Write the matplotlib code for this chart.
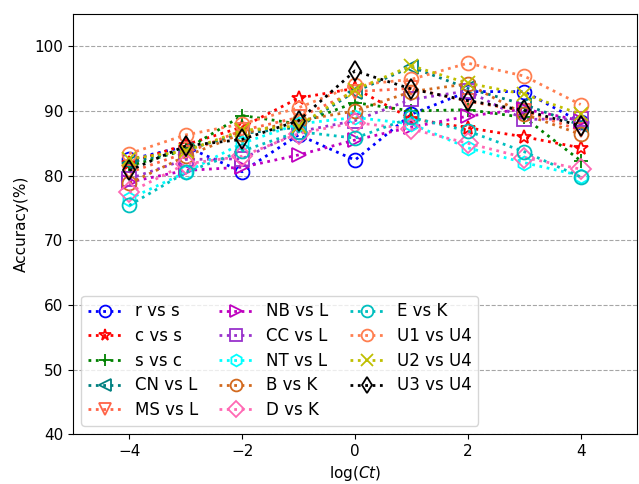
import numpy as np
import matplotlib
matplotlib.use('Agg')
import matplotlib.pyplot as plt

#===============================================================================================================================================
# data

log_ct = [-4, -3, -2, -1, 0, 1, 2, 3, 4]

labels = ['r vs s', 'c vs s', 's vs c', 'CN vs L', 'MS vs L',
          'NB vs L', 'CC vs L', 'NT vs L', 'B vs K', 'D vs K',
          'E vs K', 'U1 vs U4', 'U2 vs U4', 'U3 vs U4']

r_vs_s   = [82.5, 84.5, 80.6, 86.3, 82.4, 89.5, 93.0, 93.0, 88.3]
c_vs_s   = [82.0, 84.8, 87.5, 92.0, 93.5, 88.8, 87.4, 86.0, 84.3]
s_vs_c   = [81.5, 84.0, 89.3, 88.0, 91.3, 90.0, 90.2, 89.0, 82.3]
cn_vs_l  = [82.0, 84.0, 86.5, 87.5, 93.0, 96.8, 93.5, 91.0, 87.8]
ms_vs_l  = [80.5, 83.5, 87.0, 89.0, 93.0, 93.5, 91.5, 90.0, 87.0]
nb_vs_l  = [79.0, 80.8, 81.3, 83.2, 85.5, 87.5, 89.2, 90.3, 88.5]
cc_vs_l  = [79.5, 82.5, 82.6, 86.8, 88.5, 91.8, 93.1, 88.7, 88.8]
nt_vs_l  = [76.4, 80.5, 85.0, 88.0, 89.0, 88.0, 84.3, 82.0, 80.0]
b_vs_k   = [78.8, 83.0, 86.5, 88.5, 90.0, 93.0, 94.2, 89.5, 86.4]
d_vs_k   = [77.4, 81.8, 83.0, 86.5, 88.2, 87.2, 85.0, 82.8, 81.0]
e_vs_k   = [75.4, 80.5, 83.8, 86.8, 85.8, 89.0, 86.9, 83.7, 79.8]
u1_vs_u4 = [83.4, 86.3, 88.0, 90.5, 94.0, 94.9, 97.4, 95.4, 91.0]
u2_vs_u4 = [82.6, 83.8, 87.0, 87.7, 93.3, 97.0, 94.3, 92.6, 89.5]
u3_vs_u4 = [80.8, 84.6, 85.6, 88.5, 96.2, 93.4, 91.6, 90.1, 87.7]

series = [r_vs_s, c_vs_s, s_vs_c, cn_vs_l, ms_vs_l, nb_vs_l, cc_vs_l,
          nt_vs_l, b_vs_k, d_vs_k, e_vs_k, u1_vs_u4, u2_vs_u4, u3_vs_u4]

colors = ['b', 'r', 'g', 'teal', 'tomato', 'm', 'darkorchid',
          'cyan', 'chocolate', 'hotpink', 'c', 'coral', 'y', 'k']
markers = ['o', '*', '+', '<', 'v', '>', 's', 'h', 'o', 'D', 'o', 'o', 'x', 'd']

#===============================================================================================================================================

plt.rcParams['font.family'] = 'DejaVu Sans'
plt.rcParams['font.size'] = 11

fig = plt.figure(figsize=(6.39, 4.84), dpi=100)
ax = fig.add_axes([0.114, 0.103, 0.883, 0.868])

for vals, lab, col, mk in zip(series, labels, colors, markers):
    ax.plot(log_ct, vals, linestyle=':', linewidth=2, color=col, marker=mk,
            markersize=10, markerfacecolor='none', markeredgewidth=1.3, label=lab)

ax.set_xlim(-5, 5)
ax.set_ylim(40, 105)
ax.set_xticks([-4, -2, 0, 2, 4])
ax.set_yticks([40, 50, 60, 70, 80, 90, 100])
ax.yaxis.grid(True, linestyle='--', color='gray', alpha=0.7)
ax.set_axisbelow(True)
ax.set_xlabel('log($Ct$)')
ax.set_ylabel('Accuracy(%)')

ax.legend(loc='lower left', ncol=3, fontsize=12, handlelength=2.0,
          columnspacing=1.3, labelspacing=0.4, borderaxespad=0.5,
          markerscale=0.85)

fig.savefig('out.png', dpi=100)
